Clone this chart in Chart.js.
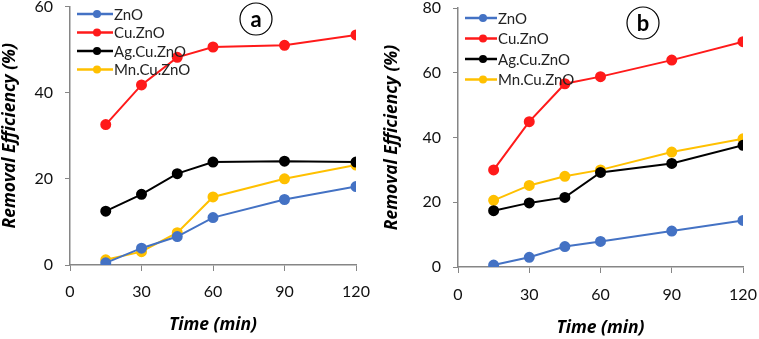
<!DOCTYPE html>
<html>
<head>
<meta charset="utf-8">
<script src="https://cdn.jsdelivr.net/npm/chart.js@4.4.1/dist/chart.umd.min.js"></script>
<style>
  html, body { margin: 0; padding: 0; background: #fff; }
  .box { position: absolute; top: 0; height: 339px; }
  #boxA { left: 0; width: 376px; }
  #boxB { left: 378px; width: 381px; }
</style>
</head>
<body>
<div class="box" id="boxA"><canvas id="chartA"></canvas></div>
<div class="box" id="boxB"><canvas id="chartB"></canvas></div>
<script>
// temps de contact (min)
const times = [15, 30, 45, 60, 90, 120];
const xTicks = [0, 30, 60, 90, 120];

const seriesNames = ['ZnO', 'Cu.ZnO', 'Ag.Cu.ZnO', 'Mn.Cu.ZnO'];
const seriesColors = ['#4472C4', '#FF1A1A', '#000000', '#FFC000'];

// figure a
const znoA  = [0.5, 3.9, 6.6, 11.0, 15.2, 18.2];
const cuA   = [32.6, 41.8, 48.2, 50.6, 51.0, 53.4];
const agA   = [12.5, 16.4, 21.2, 23.9, 24.1, 23.9];
const mnA   = [1.2, 3.1, 7.5, 15.8, 20.0, 23.2];

// figure b
const znoB  = [0.6, 3.0, 6.3, 7.9, 11.1, 14.4];
const cuB   = [30.0, 44.9, 56.6, 58.8, 63.9, 69.6];
const agB   = [17.4, 19.8, 21.5, 29.2, 32.0, 37.6];
const mnB   = [20.6, 25.2, 28.0, 30.0, 35.5, 39.6];

const axisColor = '#868686';
const fontFam = 'Lato, "Open Sans", sans-serif';
const titleFam = '"Open Sans", Lato, sans-serif';

// legende dessinée dans la zone du graphique
const insideLegend = {
  id: 'insideLegend',
  afterDraw(chart, args, opts) {
    const ctx = chart.ctx;
    ctx.save();
    ctx.font = '15px ' + fontFam;
    ctx.textBaseline = 'middle';
    chart.data.datasets.forEach((ds, i) => {
      const y = opts.y + i * opts.row;
      ctx.strokeStyle = ds.borderColor;
      ctx.lineWidth = 2.5;
      ctx.beginPath();
      ctx.moveTo(opts.x, y);
      ctx.lineTo(opts.x + opts.len, y);
      ctx.stroke();
      ctx.fillStyle = ds.borderColor;
      ctx.beginPath();
      ctx.arc(opts.x + opts.len / 2 + 2, y, 4, 0, Math.PI * 2);
      ctx.fill();
      ctx.fillStyle = '#222';
      ctx.fillText(ds.label, opts.x + opts.len + 1, y + 1);
    });
    ctx.restore();
  }
};

// lettre entourée (a / b)
const circleLetter = {
  id: 'circleLetter',
  afterDraw(chart, args, opts) {
    const ctx = chart.ctx;
    ctx.save();
    ctx.strokeStyle = '#000';
    ctx.lineWidth = 1.2;
    ctx.fillStyle = '#fff';
    ctx.beginPath();
    ctx.arc(opts.x, opts.y, opts.r, 0, Math.PI * 2);
    ctx.fill();
    ctx.stroke();
    ctx.fillStyle = '#000';
    ctx.font = 'bold 22px ' + fontFam;
    ctx.textAlign = 'center';
    ctx.textBaseline = 'middle';
    ctx.fillText(opts.text, opts.x, opts.y + 1);
    ctx.restore();
  }
};

function makeDatasets(lists) {
  return lists.map((vals, i) => ({
    label: seriesNames[i],
    data: times.map((t, k) => ({ x: t, y: vals[k] })),
    borderColor: seriesColors[i],
    backgroundColor: seriesColors[i],
    borderWidth: 2,
    pointRadius: 4.5,
    pointHoverRadius: 4.5,
    tension: 0
  }));
}

function buildChart(id, lists, yMax, yStep, cfg, legendOpts, letterOpts) {
  const ctx = document.getElementById(id).getContext('2d');
  return new Chart(ctx, {
    type: 'line',
    data: { datasets: makeDatasets(lists) },
    plugins: [insideLegend, circleLetter],
    options: {
      responsive: true,
      maintainAspectRatio: false,
      animation: false,
      layout: { padding: { top: cfg.padTop, right: cfg.padRight, left: 0, bottom: 0 } },
      plugins: {
        legend: { display: false },
        tooltip: { enabled: false },
        insideLegend: legendOpts,
        circleLetter: letterOpts
      },
      scales: {
        x: {
          type: 'linear',
          min: 0,
          max: 120,
          afterBuildTicks: s => { s.ticks = xTicks.map(v => ({ value: v })); },
          afterFit: s => { s.height = cfg.xHeight; s.paddingLeft = 0; s.paddingRight = 0; },
          grid: { drawOnChartArea: false, drawTicks: true, tickLength: 6, color: axisColor },
          border: { display: true, color: axisColor, width: 1.5 },
          ticks: { color: '#111', font: { family: fontFam, size: 16 }, padding: cfg.xTickPad, maxRotation: 0 },
          title: { display: true, text: 'Time (min)', color: '#000',
                   font: { family: titleFam, size: 17.5, weight: 'bold', style: 'italic' },
                   padding: { top: 0, bottom: cfg.xTitlePad } }
        },
        y: {
          min: 0,
          max: yMax,
          ticks: { stepSize: yStep, color: '#111', font: { family: fontFam, size: 16 }, padding: 12 },
          afterFit: s => { s.width = cfg.yWidth; s.paddingTop = 0; s.paddingBottom = 0; },
          grid: { drawOnChartArea: false, drawTicks: true, tickLength: 5, color: axisColor },
          border: { display: true, color: axisColor, width: 1.5 },
          title: { display: true, text: 'Removal Efficiency (%)', color: '#000',
                   font: { family: titleFam, size: 17.5, weight: 'bold', style: 'italic' },
                   padding: cfg.yTitlePad }
        }
      }
    }
  });
}

buildChart('chartA', [znoA, cuA, agA, mnA], 60, 20,
  { yWidth: 70, xHeight: 74, padTop: 6, padRight: 20, xTickPad: 11, xTitlePad: 3, yTitlePad: 0 },
  { x: 77, y: 14, row: 18.5, len: 36 },
  { x: 256, y: 19, r: 16, text: 'a' });

buildChart('chartB', [znoB, cuB, agB, mnB], 80, 20,
  { yWidth: 80, xHeight: 72, padTop: 8, padRight: 16, xTickPad: 12, xTitlePad: 0, yTitlePad: 4 },
  { x: 87, y: 18, row: 20.5, len: 32 },
  { x: 265, y: 23, r: 16, text: 'b' });
</script>
</body>
</html>
